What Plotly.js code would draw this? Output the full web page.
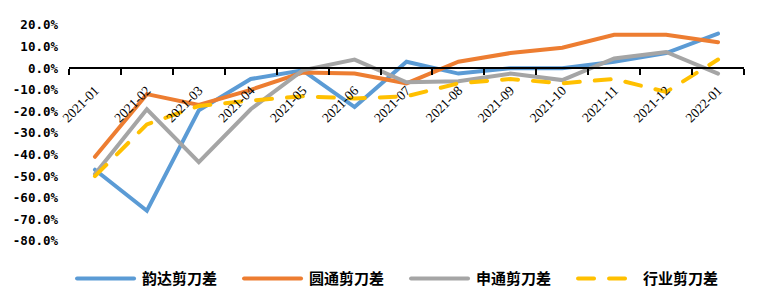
<!DOCTYPE html>
<html>
<head>
<meta charset="utf-8">
<script src="https://cdn.plot.ly/plotly-3.0.1.min.js"></script>
<style>html,body{margin:0;padding:0;background:#fff;}#chart{width:767px;height:307px;}</style>
</head>
<body>
<div id="chart"></div>
<script>
const categories = ['2021-01','2021-02','2021-03','2021-04','2021-05','2021-06','2021-07','2021-08','2021-09','2021-10','2021-11','2021-12','2022-01'];
const yunda   = [-47, -66, -19.5, -5, -1, -18, 3, -2.5, 0, 0, 3, 7, 16];
const yuantong = [-41, -12, -17, -10, -2, -2.5, -7, 3, 7, 9.5, 15.5, 15.5, 12];
const shentong = [-49, -19, -43.5, -19, -1, 4, -6.5, -6, -2.5, -5.5, 4.5, 7.5, -2.5];
const industry = [-50, -26, -17.5, -15, -13, -14, -13, -7, -5, -7, -5, -11, 4];
const seriesNames = ['韵达剪刀差','圆通剪刀差','申通剪刀差','行业剪刀差'];
const yTickVals = [20, 10, 0, -10, -20, -30, -40, -50, -60, -70, -80];
const yTickText = ['20.0%','10.0%','0.0%','-10.0%','-20.0%','-30.0%','-40.0%','-50.0%','-60.0%','-70.0%','-80.0%'];

const colors = ['#5B9BD5','#ED7D31','#A5A5A5','#FFC000'];
const seriesData = [yunda, yuantong, shentong, industry];
const traces = seriesData.map((ys, i) => ({
  type: 'scatter', mode: 'lines', x: categories, y: ys, name: seriesNames[i],
  line: {color: colors[i], width: 4, dash: i === 3 ? '16px,15px' : 'solid'},
  hoverinfo: 'skip'
}));

const layout = {
  width: 767, height: 307,
  margin: {l: 69, r: 23, t: 25, b: 60},
  paper_bgcolor: '#fff', plot_bgcolor: '#fff',
  showlegend: true,
  legend: {orientation: 'h', x: 0.0045, xanchor: 'left', y: -0.175, yanchor: 'middle',
           font: {family: 'Noto Sans CJK SC', size: 15, color: '#000', weight: 'bold'},
           entrywidth: 92, entrywidthmode: 'pixels', itemwidth: 60},
  xaxis: {type: 'category', anchor: 'free', position: 0.8, showgrid: false, zeroline: false,
          showline: true, linecolor: '#000', linewidth: 2, automargin: false,
          ticks: 'outside', tickson: 'boundaries', ticklen: 6, tickcolor: '#000', tickwidth: 2,
          tickangle: -45, ticklabelstandoff: 8,
          tickfont: {family: 'Liberation Serif', size: 13.5, color: '#000'},
          range: [-0.5, 12.5]},
  yaxis: {range: [-80, 20], showgrid: false, zeroline: false, showline: false, ticks: '',
          tickvals: yTickVals, ticktext: yTickText, ticklabelstandoff: 10, automargin: false,
          tickfont: {family: 'DejaVu Sans Mono', size: 12.5, color: '#000', weight: 'bold'}}
};
Plotly.newPlot('chart', traces, layout, {displayModeBar: false, staticPlot: true}).then(() => {
  document.querySelectorAll('.legendlines path').forEach(p => {
    p.setAttribute('d', 'M5,0h57');
    p.style.strokeLinecap = 'round';
  });
  document.querySelectorAll('.scatterlayer .js-line').forEach(p => { p.style.strokeLinecap = 'round'; });
});
</script>
</body>
</html>
